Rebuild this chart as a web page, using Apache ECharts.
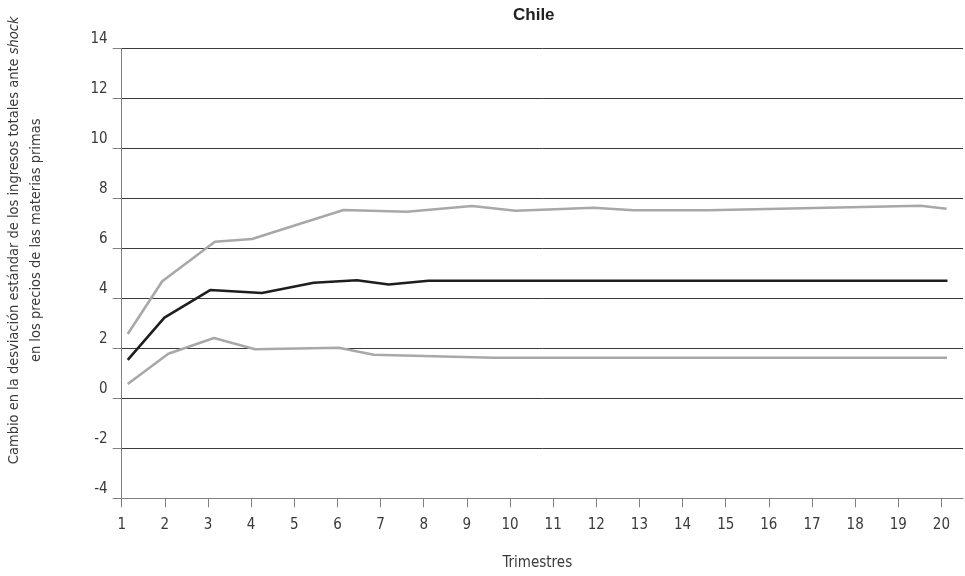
<!DOCTYPE html>
<html><head><meta charset="utf-8">
<script src="https://cdn.jsdelivr.net/npm/echarts@6/dist/echarts.min.js"></script>
<style>html,body{margin:0;padding:0;background:#fff}#c{width:965px;height:576px}</style>
</head><body><div id="c"></div>
<script>
// ---- text ----
const chartTitle = 'Chile';
const xAxisName = 'Trimestres';
const yNameLine1 = 'Cambio en la desviación estándar de los ingresos totales ante ';
const yNameItalic = 'shock';
const yNameLine2 = 'en los precios de las materias primas';

// ---- axes ----
const xTickValues = [1,2,3,4,5,6,7,8,9,10,11,12,13,14,15,16,17,18,19,20];
const yTickValues = [-4,-2,0,2,4,6,8,10,12,14];

// ---- series (x in trimestres, y value) ----
const upperX = [1.14, 1.94, 3.16, 4.02, 6.14, 7.61, 9.12, 10.13, 11.94, 12.87, 14.6, 19.52, 20.12];
const upperY = [2.57, 4.68, 6.26, 6.37, 7.53, 7.46, 7.69, 7.50, 7.62, 7.52, 7.52, 7.70, 7.58];

const centralX = [1.14, 1.99, 3.05, 4.25, 5.45, 6.45, 7.19, 8.11, 20.14];
const centralY = [1.54, 3.23, 4.33, 4.21, 4.62, 4.72, 4.55, 4.70, 4.70];

const lowerX = [1.14, 2.08, 3.14, 4.09, 6.03, 6.84, 9.62, 20.13];
const lowerY = [0.57, 1.78, 2.41, 1.96, 2.02, 1.74, 1.62, 1.62];

const pairs = (xs, ys) => xs.map((x, i) => [x, ys[i]]);

const FONT = '"Liberation Sans Narrow", "DejaVu Sans Condensed", "Liberation Sans", sans-serif';
const TXT = '#3a3a3a';

const chart = echarts.init(document.getElementById('c'), null, {renderer: 'canvas'});
chart.setOption({
  backgroundColor: '#ffffff',
  animation: false,
  title: {
    text: chartTitle,
    left: 508, top: 2,
    textStyle: {fontFamily: '"Liberation Sans", sans-serif', fontWeight: 'bold', fontSize: 17, color: '#222'}
  },
  grid: {left: 121.7, right: 2, top: 48.3, bottom: 77.7, containLabel: false, outerBoundsMode: 'none'},
  xAxis: {
    type: 'value', min: 1, max: 20.5, interval: 1,
    name: xAxisName, nameLocation: 'middle', nameGap: 57,
    nameTextStyle: {fontFamily: FONT, fontSize: 15, color: TXT, padding: [0, 10, 0, 0]},
    axisLine: {onZero: false, lineStyle: {color: '#808080', width: 1}},
    axisTick: {show: true, length: 9, customValues: xTickValues, lineStyle: {color: '#808080'}},
    axisLabel: {customValues: xTickValues, margin: 19, fontFamily: FONT, fontSize: 15, color: TXT},
    splitLine: {show: false}
  },
  yAxis: {
    type: 'value', min: yTickValues[0], max: yTickValues[yTickValues.length - 1], interval: 2,
    name: '{n|' + yNameLine1 + '}{i|' + yNameItalic + '}\n{n|' + yNameLine2 + '}',
    nameLocation: 'middle', nameGap: 74,
    nameTextStyle: {
      fontFamily: FONT, fontSize: 14.5, color: TXT, lineHeight: 22,
      padding: [0, 0, 0, 66],
      rich: {
        n: {fontFamily: FONT, fontSize: 14.5, color: TXT, lineHeight: 22},
        i: {fontFamily: FONT, fontSize: 14.5, color: TXT, lineHeight: 22, fontStyle: 'italic'}
      }
    },
    axisLine: {show: true, lineStyle: {color: '#808080', width: 1}},
    axisTick: {show: true, length: 9, lineStyle: {color: '#808080'}},
    axisLabel: {margin: 14, fontFamily: FONT, fontSize: 15, color: TXT, verticalAlign: 'bottom', padding: [0, 0, 2, 0]},
    splitLine: {show: true, lineStyle: {color: '#3a3a3a', width: 1}}
  },
  series: [
    {type: 'line', name: 'upper', data: pairs(upperX, upperY), showSymbol: false, symbol: 'none',
     lineStyle: {color: '#a8a8a8', width: 2.6}, itemStyle: {color: '#a8a8a8'}, z: 3},
    {type: 'line', name: 'lower', data: pairs(lowerX, lowerY), showSymbol: false, symbol: 'none',
     lineStyle: {color: '#a8a8a8', width: 2.6}, itemStyle: {color: '#a8a8a8'}, z: 3},
    {type: 'line', name: 'central', data: pairs(centralX, centralY), showSymbol: false, symbol: 'none',
     lineStyle: {color: '#1e1e1e', width: 2.6}, itemStyle: {color: '#1e1e1e'}, z: 4}
  ]
});
</script>
</body></html>
